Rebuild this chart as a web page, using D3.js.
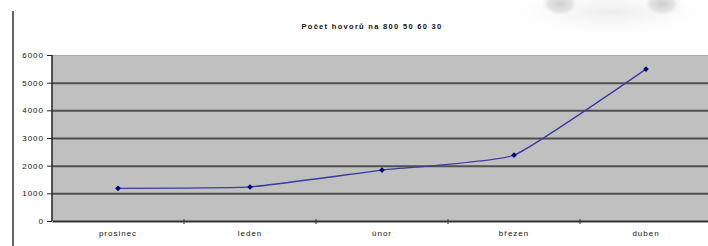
<!DOCTYPE html>
<html>
<head>
<meta charset="utf-8">
<script src="https://cdn.jsdelivr.net/npm/d3@7"></script>
<style>
  body { margin: 0; background: #fff; }
  svg { display: block; }
  text { font-family: "Liberation Sans", Arial, sans-serif; fill: #111; }
</style>
</head>
<body>
<div id="chart"></div>
<script>
// data
const months = ['prosinec', 'leden', 'únor', 'březen', 'duben'];
const calls = [1180, 1230, 1840, 2380, 5490];
const yTicks = [0, 1000, 2000, 3000, 4000, 5000, 6000];
const title = 'Počet hovorů na 800 50 60 30';

var fullWidth = 708;
var fullHeight = 246;
var margin = {top: 55, right: -4, bottom: 25, left: 52};
var width = fullWidth - margin.left - margin.right;
var height = fullHeight - margin.top - margin.bottom;

var svg = d3.select('#chart')
  .append('svg')
  .attr('width', fullWidth)
  .attr('height', fullHeight);

var defs = svg.append('defs');

// faded frame line on top
var fade = defs.append('linearGradient').attr('id', 'frameFade')
  .attr('x1', 0).attr('x2', 1).attr('y1', 0).attr('y2', 0);
fade.append('stop').attr('offset', '0').attr('stop-color', '#666');
fade.append('stop').attr('offset', '0.68').attr('stop-color', '#888');
fade.append('stop').attr('offset', '0.8').attr('stop-color', '#ddd');
fade.append('stop').attr('offset', '1').attr('stop-color', '#f0f0f0');

var blob = defs.append('radialGradient').attr('id', 'blob');
blob.append('stop').attr('offset', '0').attr('stop-color', '#d0d0d0');
blob.append('stop').attr('offset', '0.6').attr('stop-color', '#e4e4e4');
blob.append('stop').attr('offset', '1').attr('stop-color', '#fff').attr('stop-opacity', 0);

var haze = defs.append('radialGradient').attr('id', 'haze');
haze.append('stop').attr('offset', '0').attr('stop-color', '#ececec');
haze.append('stop').attr('offset', '1').attr('stop-color', '#fff').attr('stop-opacity', 0);

// ghost picture in the top right corner
var ghost = svg.append('g').attr('class', 'ghost');
ghost.append('ellipse').attr('cx', 610).attr('cy', 12).attr('rx', 120).attr('ry', 30).attr('fill', 'url(#haze)');
ghost.append('ellipse').attr('cx', 560).attr('cy', 4).attr('rx', 20).attr('ry', 13).attr('fill', 'url(#blob)');
ghost.append('ellipse').attr('cx', 662).attr('cy', 4).attr('rx', 20).attr('ry', 13).attr('fill', 'url(#blob)');

// outer frame
svg.append('line')
  .attr('x1', 13).attr('x2', 13).attr('y1', 11).attr('y2', fullHeight)
  .attr('stroke', '#666').attr('stroke-width', 2);
svg.append('line')
  .attr('x1', 12).attr('x2', 708).attr('y1', 11).attr('y2', 11)
  .attr('stroke', 'url(#frameFade)').attr('stroke-width', 2);

svg.append('text')
  .attr('x', 372)
  .attr('y', 29)
  .attr('text-anchor', 'middle')
  .style('font-size', '7.5px')
  .style('font-weight', 'bold')
  .style('letter-spacing', '1.3px')
  .text(title);

var g = svg.append('g')
  .attr('transform', `translate(${margin.left},${margin.top})`);

var xScale = d3.scaleBand()
  .domain(months)
  .range([0, width]);

var yScale = d3.scaleLinear()
  .domain([0, 6000])
  .range([height, 0]);

g.append('rect')
  .attr('width', width)
  .attr('height', height)
  .attr('fill', '#c0c0c0');
g.append('line')
  .attr('x1', 0).attr('x2', width).attr('y1', 0.5).attr('y2', 0.5)
  .attr('stroke', '#a8a8a8');

var yGrid = d3.axisLeft(yScale)
  .tickValues(yTicks.filter(d => d > 0 && d < 6000))
  .tickSize(-width)
  .tickFormat('');
g.append('g')
  .attr('class', 'grid y')
  .call(yGrid)
  .call(s => s.select('.domain').remove())
  .selectAll('line')
  .attr('stroke', '#505050')
  .attr('stroke-width', 2);

var yAxis = d3.axisLeft(yScale)
  .tickValues(yTicks)
  .tickSize(5)
  .tickPadding(3)
  .tickFormat(d3.format('d'));
g.append('g')
  .attr('class', 'axis y')
  .call(yAxis)
  .call(s => s.select('.domain').attr('stroke', '#222').attr('stroke-width', 1.5).attr('d', `M0,0V${height}`))
  .call(s => s.selectAll('line').attr('stroke', '#222'))
  .call(s => s.selectAll('text').style('font-size', '8px').style('letter-spacing', '1px').attr('fill', '#111'));

var xAxis = d3.axisBottom(xScale)
  .tickSize(0)
  .tickPadding(9);
g.append('g')
  .attr('class', 'axis x')
  .attr('transform', `translate(0,${height})`)
  .call(xAxis)
  .call(s => s.select('.domain').attr('stroke', '#333').attr('stroke-width', 2))
  .call(s => s.selectAll('text').style('font-size', '8px').style('letter-spacing', '1px').attr('fill', '#111'));

// category separator ticks on the x axis
g.append('g')
  .selectAll('line')
  .data(months.slice(1))
  .join('line')
  .attr('x1', d => xScale(d))
  .attr('x2', d => xScale(d))
  .attr('y1', height - 2)
  .attr('y2', height + 3)
  .attr('stroke', '#333');

var pts = months.map((m, i) => ({x: m, y: calls[i]}));

var line = d3.line()
  .x(d => xScale(d.x) + xScale.bandwidth() / 2)
  .y(d => yScale(d.y))
  .curve(d3.curveCardinal.tension(0.6));

g.append('path')
  .datum(pts)
  .attr('class', 'line')
  .attr('fill', 'none')
  .attr('stroke', '#3a3aa0')
  .attr('stroke-width', 1.3)
  .attr('d', line);

g.append('g')
  .selectAll('path')
  .data(pts)
  .join('path')
  .attr('transform', d => `translate(${xScale(d.x) + xScale.bandwidth() / 2},${yScale(d.y)}) rotate(45)`)
  .attr('d', d3.symbol(d3.symbolSquare, 16))
  .attr('fill', '#000070');
</script>
</body>
</html>
